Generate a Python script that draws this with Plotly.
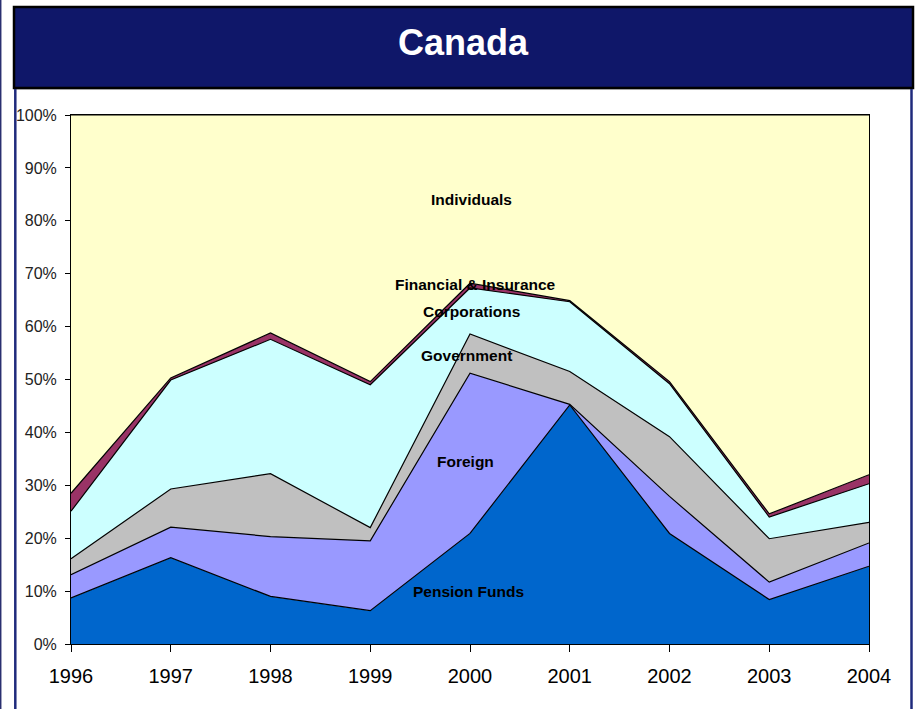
import plotly.graph_objects as go

years = [1996, 1997, 1998, 1999, 2000, 2001, 2002, 2003, 2004]
pension_funds = [8.7, 16.3, 9.0, 6.3, 20.9, 45.2, 20.9, 8.4, 14.7]
foreign = [4.4, 5.8, 11.3, 13.2, 30.3, 0.1, 7.0, 3.3, 4.4]
government = [3.0, 7.2, 11.9, 2.5, 7.4, 6.2, 11.3, 8.2, 3.9]
corporations = [9.0, 20.6, 25.4, 27.0, 8.7, 13.2, 10.0, 4.1, 7.3]
financial_insurance = [3.4, 0.4, 1.2, 0.6, 0.9, 0.2, 0.4, 0.6, 1.7]
individuals = [71.5, 49.7, 41.2, 50.4, 31.8, 35.1, 50.4, 75.4, 68.0]

series = [
    ("Pension Funds", pension_funds, "#0066CC"),
    ("Foreign", foreign, "#9999FF"),
    ("Government", government, "#C0C0C0"),
    ("Corporations", corporations, "#CCFFFF"),
    ("Financial & Insurance", financial_insurance, "#993366"),
    ("Individuals", individuals, "#FFFFCC"),
]

# label positions (year, percent)
labels = [
    ("Individuals", 2000.01, 84.1),
    ("Financial & Insurance", 2000.06, 67.9),
    ("Corporations", 2000.01, 62.9),
    ("Government", 1999.96, 54.5),
    ("Foreign", 1999.95, 34.5),
    ("Pension Funds", 1999.98, 9.9),
]

fig = go.Figure()
for name, vals, color in series:
    fig.add_trace(go.Scatter(
        x=years, y=vals, name=name, mode="lines",
        stackgroup="one", fillcolor=color,
        line=dict(color="black", width=1.2),
    ))

W, H = 919, 709
L, R, T, B = 71, 869, 115, 644.5

def px(x):
    return (x - L) / (R - L)

def py(y):
    return (B - y) / (B - T)

shapes = [
    # title banner
    dict(type="rect", xref="paper", yref="paper",
         x0=px(14), x1=px(913), y0=py(88), y1=py(7),
         fillcolor="#0F1769", line=dict(color="black", width=2.5), layer="above"),
    # grey line under banner
    dict(type="line", xref="paper", yref="paper",
         x0=px(16), x1=px(911), y0=py(89.5), y1=py(89.5),
         line=dict(color="#A0A0A0", width=1)),
    # left/right navy lines
    dict(type="line", xref="paper", yref="paper",
         x0=px(15.3), x1=px(15.3), y0=py(89), y1=py(712),
         line=dict(color="#1F2A7C", width=2.5)),
    dict(type="line", xref="paper", yref="paper",
         x0=px(911.5), x1=px(911.5), y0=py(89), y1=py(712),
         line=dict(color="#1F2A7C", width=2.5)),
    dict(type="line", xref="paper", yref="paper",
         x0=px(0.7), x1=px(0.7), y0=py(0), y1=py(712),
         line=dict(color="#2A3070", width=1.5)),
]

annotations = [
    dict(text="<b>Canada</b>", xref="paper", yref="paper",
         x=px(463.5), y=py(42), showarrow=False,
         font=dict(family="Liberation Sans, Arial", size=36, color="white"),
         xanchor="center", yanchor="middle"),
]
for text, x, y in labels:
    annotations.append(dict(
        text="<b>" + text.replace("&", "&amp;") + "</b>", x=x, y=y, xref="x", yref="y",
        showarrow=False, xanchor="center", yanchor="middle",
        font=dict(family="Liberation Sans, Arial", size=15.5, color="black"),
    ))

fig.update_layout(
    width=W, height=H,
    margin=dict(l=L, r=W - R, t=T, b=H - B, pad=0),
    paper_bgcolor="white", plot_bgcolor="white",
    showlegend=False,
    shapes=shapes,
    annotations=annotations,
    font=dict(family="Liberation Sans, Arial", color="black"),
)
fig.update_xaxes(
    range=[1996, 2004], tickvals=years, ticktext=[str(y) for y in years],
    showgrid=False, zeroline=False, showline=True, linecolor="black", linewidth=1,
    mirror=True, ticks="outside", ticklen=7, tickcolor="black",
    tickfont=dict(size=20, color="black"), ticklabelstandoff=7,
)
fig.update_yaxes(
    range=[0, 100], tickvals=list(range(0, 101, 10)),
    ticktext=[f"{v}%" for v in range(0, 101, 10)],
    showgrid=False, zeroline=False, showline=True, linecolor="black", linewidth=1,
    mirror=True, ticks="outside", ticklen=5, tickcolor="black",
    tickfont=dict(size=16, color="#222222"), ticklabelstandoff=5,
)

fig.write_html(
    "out.html",
    config={"displayModeBar": False},
    post_script="document.body.style.margin='0';document.body.style.padding='0';",
)
